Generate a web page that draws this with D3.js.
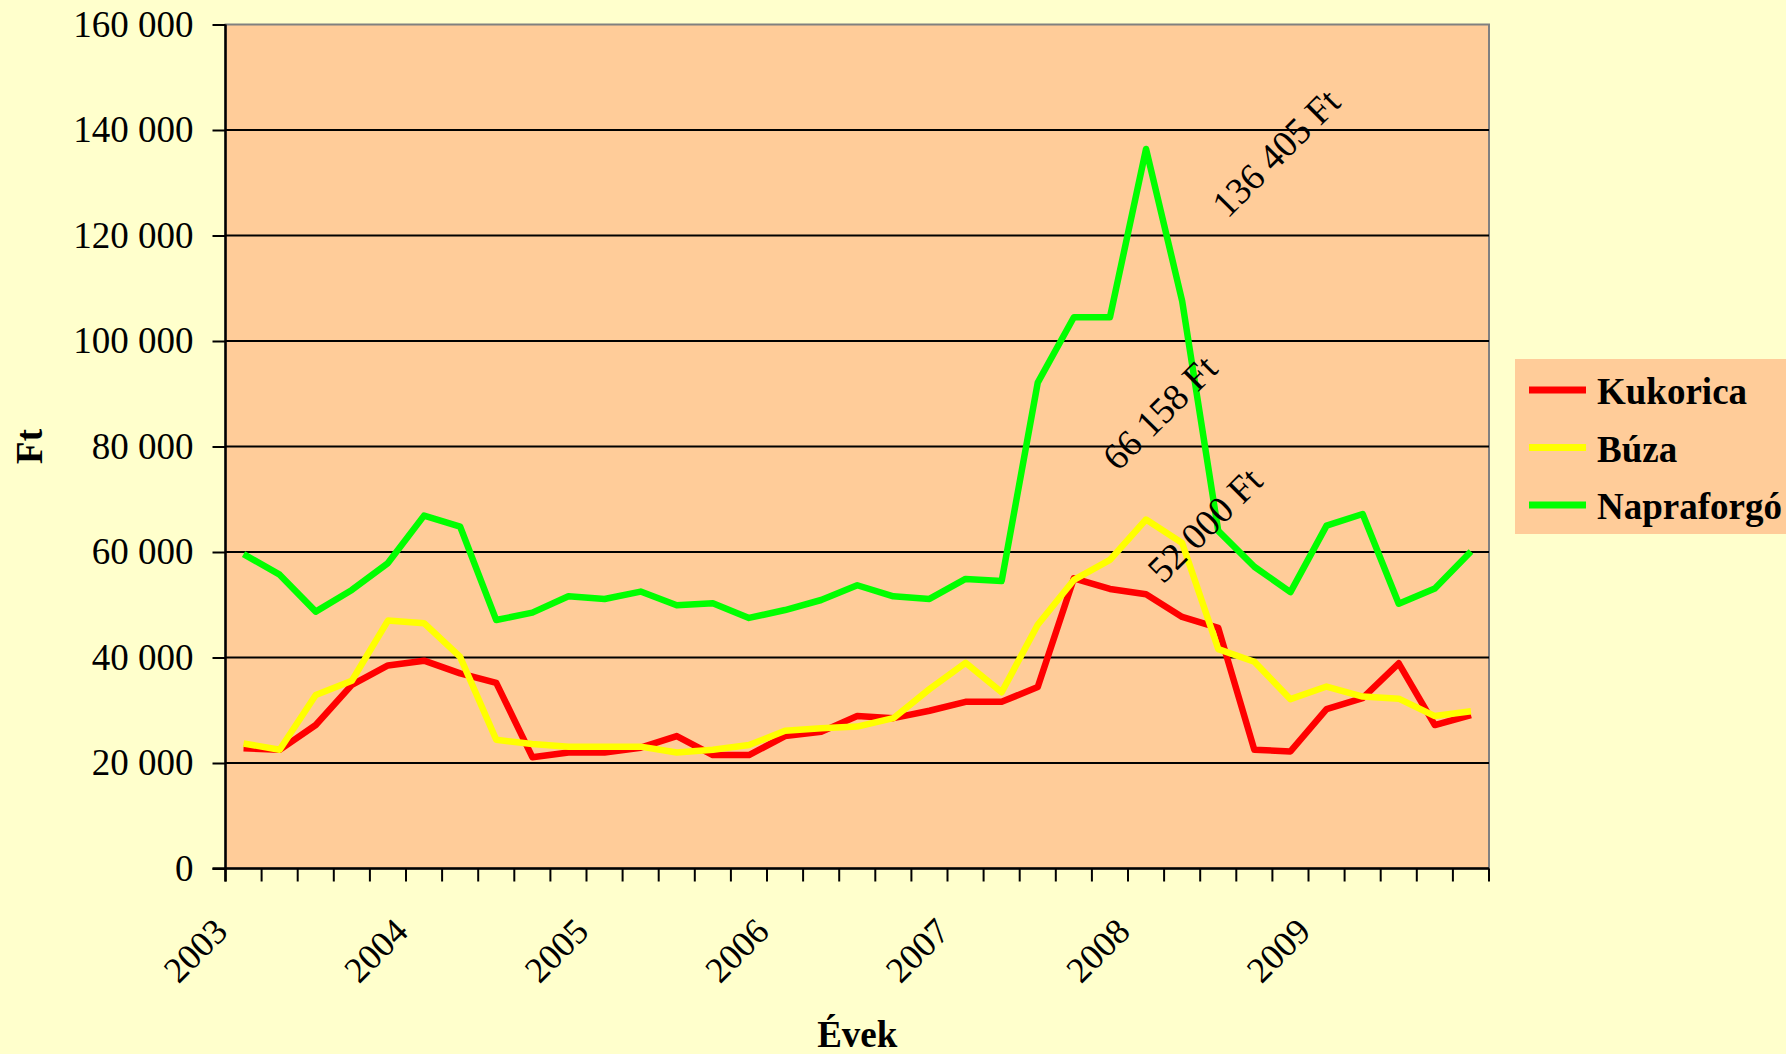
<!DOCTYPE html>
<html><head><meta charset="utf-8">
<script src="https://cdn.jsdelivr.net/npm/d3@7"></script>
<style>html,body{margin:0;padding:0;background:#FFFFCC;} svg{display:block;}</style>
</head><body>
<svg id="chart" width="1786" height="1054"></svg>
<script>
// ---- data ----
const years = ["2003","2004","2005","2006","2007","2008","2009"];
const periodsPerYear = 5;
const categories = [];
years.forEach(y => { for (let p = 1; p <= periodsPerYear; p++) categories.push(y + "/" + p); });

const seriesNames = ["Kukorica", "Búza", "Napraforgó"];
const seriesColors = ["#FF0000", "#FFFF00", "#00FF00"];

const kukorica = [22800, 22500, 27200, 34800, 38500, 39400, 37000, 35200, 21100, 22000,
                  22000, 22900, 25100, 21500, 21500, 25100, 25900, 28900, 28500, 29900,
                  31600, 31600, 34400, 55000, 53000, 52000, 47700, 45600, 22500, 22200,
                  30200, 32300, 38900, 27200, 29100];
const buza = [23700, 22500, 32900, 35600, 47000, 46500, 40100, 24400, 23600, 23100,
              23100, 23100, 22000, 22500, 23400, 26100, 26600, 26900, 28500, 34000,
              39000, 33400, 46200, 54700, 58500, 66158, 61700, 41600, 39200, 32100,
              34500, 32600, 32200, 28900, 29800];
const napraforgo = [59600, 55700, 48700, 52800, 57900, 66900, 64800, 47100, 48500, 51600,
                    51100, 52500, 49900, 50300, 47500, 49000, 50900, 53700, 51600, 51100,
                    54900, 54500, 92100, 104500, 104500, 136405, 107600, 64000, 57200, 52400,
                    65000, 67200, 50200, 53100, 60100];
const seriesValues = [kukorica, buza, napraforgo];

const yTicks = [0, 20000, 40000, 60000, 80000, 100000, 120000, 140000, 160000];
const annotationTexts = ["136 405 Ft", "66 158 Ft", "52 000 Ft"];
const annotationSeries = [2, 1, 0];
const annotationIndex = [25, 25, 25];

// ---- layout ----
const W = 1786, H = 1054;
const plot = {left: 225.5, right: 1489, top: 24.5, bottom: 868.5};
const annotationOffset = [[130, 4], [14, -107], [59, -69]];

const svg = d3.select("#chart");
svg.append("rect").attr("width", W).attr("height", H).attr("fill", "#FFFFCC");

const x = d3.scaleBand().domain(categories).range([plot.left, plot.right]).padding(0);
const y = d3.scaleLinear().domain([0, 160000]).range([plot.bottom, plot.top]);
const loc = d3.formatLocale({decimal: ",", thousands: "\u00a0", grouping: [3], currency: ["", " Ft"]});
const fmt = loc.format(",d");

// plot background
svg.append("rect")
  .attr("x", plot.left).attr("y", plot.top)
  .attr("width", plot.right - plot.left).attr("height", plot.bottom - plot.top)
  .attr("fill", "#FFCC99").attr("stroke", "#808080").attr("stroke-width", 2);

// gridlines
svg.append("g").selectAll("line").data(yTicks.filter(t => t > 0 && t < 160000)).join("line")
  .attr("x1", plot.left).attr("x2", plot.right)
  .attr("y1", d => y(d)).attr("y2", d => y(d))
  .attr("stroke", "#000").attr("stroke-width", 2);

// y axis
const yAxis = svg.append("g").attr("transform", `translate(${plot.left},0)`)
  .call(d3.axisLeft(y).tickValues(yTicks).tickSize(13).tickPadding(19).tickFormat(fmt));
yAxis.select(".domain").attr("stroke", "#000").attr("stroke-width", 2.5)
  .attr("d", `M0,${plot.top}V${plot.bottom + 13}`);
yAxis.selectAll(".tick line").attr("stroke", "#000").attr("stroke-width", 2);
yAxis.selectAll(".tick text").attr("font-family", "'Liberation Serif', 'Times New Roman', serif")
  .attr("font-size", 37).attr("fill", "#000");

// x axis line and ticks
svg.append("line").attr("x1", plot.left - 13).attr("x2", plot.right)
  .attr("y1", y(0)).attr("y2", y(0)).attr("stroke", "#000").attr("stroke-width", 2.5);
const tickPos = categories.map(c => x(c)).concat([x.range()[1]]);
svg.append("g").selectAll("line").data(tickPos).join("line")
  .attr("x1", d => d).attr("x2", d => d)
  .attr("y1", y(0)).attr("y2", y(0) + 13)
  .attr("stroke", "#000").attr("stroke-width", 2);

// x labels
svg.append("g").selectAll("text").data(categories.filter((c, i) => i % periodsPerYear === 0)).join("text")
  .attr("transform", (d, i) => `translate(${x(d) + 4},${y(0) + 65}) rotate(-45)`)
  .attr("text-anchor", "end")
  .attr("font-family", "'Liberation Serif', 'Times New Roman', serif")
  .attr("font-size", 36).attr("fill", "#000")
  .text((d, i) => years[i]);

// axis titles
svg.append("text").attr("x", (plot.left + plot.right) / 2).attr("y", 1047)
  .attr("text-anchor", "middle")
  .attr("font-family", "'Liberation Serif', 'Times New Roman', serif")
  .attr("font-size", 37).attr("font-weight", "bold").text("Évek");
svg.append("text").attr("transform", `translate(42,${(plot.top + plot.bottom) / 2}) rotate(-90)`)
  .attr("text-anchor", "middle")
  .attr("font-family", "'Liberation Serif', 'Times New Roman', serif")
  .attr("font-size", 37).attr("font-weight", "bold").text("Ft");

// lines
const line = d3.line().x((d, i) => x(categories[i]) + x.bandwidth() / 2).y(d => y(d));
seriesValues.forEach((vals, s) => {
  svg.append("path").datum(vals).attr("d", line)
    .attr("fill", "none").attr("stroke", seriesColors[s]).attr("stroke-width", 6.5)
    .attr("stroke-linejoin", "round");
});

// annotations
annotationTexts.forEach((t, k) => {
  const cx = x(categories[annotationIndex[k]]) + x.bandwidth() / 2 + annotationOffset[k][0];
  const cy = y(seriesValues[annotationSeries[k]][annotationIndex[k]]) + annotationOffset[k][1];
  svg.append("text").attr("transform", `translate(${cx},${cy}) rotate(-45)`)
    .attr("text-anchor", "middle").attr("dominant-baseline", "central")
    .attr("font-family", "'Liberation Serif', 'Times New Roman', serif")
    .attr("font-size", 37.5).attr("fill", "#000").text(t);
});

// legend
const lg = svg.append("g");
lg.append("rect").attr("x", 1515).attr("y", 359).attr("width", 280).attr("height", 175).attr("fill", "#FFCC99");
seriesNames.forEach((n, s) => {
  const ly = 390 + s * 57.5;
  lg.append("line").attr("x1", 1529).attr("x2", 1586).attr("y1", ly).attr("y2", ly)
    .attr("stroke", seriesColors[s]).attr("stroke-width", 7);
  lg.append("text").attr("x", 1597).attr("y", ly + 14)
    .attr("font-family", "'Liberation Serif', 'Times New Roman', serif")
    .attr("font-size", 37).attr("font-weight", "bold").text(n);
});
</script>
</body></html>
